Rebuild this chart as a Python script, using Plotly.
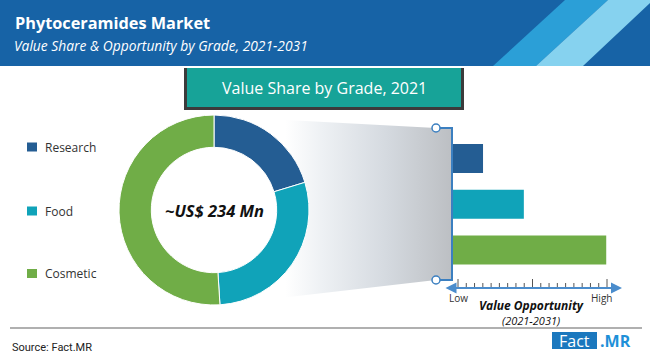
import plotly.graph_objects as go

# ---------------- data ----------------
categories = ["Research", "Food", "Cosmetic"]
share_2021 = [20.3, 28.7, 51.0]          # value share by grade, 2021 (%)
opportunity = [19.5, 46.0, 99.5]         # relative value opportunity 2021-2031 (Low=0 .. High=100)
market_label = "~US$ 234 Mn"
title = "Phytoceramides Market"
subtitle = "Value Share & Opportunity by Grade, 2021-2031"
box_title = "Value Share by Grade, 2021"

# ---------------- styles ----------------
colors = ["#245d93", "#10a3b9", "#70ad47"]
W, H = 650, 361
FONT = "Open Sans"


def px(x):
    return x / W


def py(y):
    return 1 - y / H


fig = go.Figure()

# gradient "projection" from donut to bars (decoration, pixel axis)
fig.add_trace(go.Scatter(
    x=[214, 436, 452, 452, 436, 220, 214],
    y=[116, 128, 128, 280, 280, 305, 116],
    xaxis="x3", yaxis="y3", mode="lines", line=dict(width=0),
    fill="toself",
    fillgradient=dict(type="horizontal",
                      colorscale=[[0, "#ffffff"], [0.3, "#ffffff"], [0.45, "#eef1f4"],
                                  [0.72, "#d5dae0"], [1, "#bcbfc3"]]),
    hoverinfo="skip", showlegend=False))

# donut
fig.add_trace(go.Pie(
    labels=categories, values=share_2021, hole=0.66, sort=False,
    direction="clockwise", rotation=0,
    marker=dict(colors=colors, line=dict(color="white", width=1)),
    textinfo="none", showlegend=False,
    domain=dict(x=[px(119), px(309)], y=[py(305), py(115)])))

# bars
fig.add_trace(go.Bar(
    y=categories, x=opportunity, orientation="h", width=0.63,
    marker=dict(color=colors, line=dict(width=0)),
    xaxis="x", yaxis="y", showlegend=False))

shapes = []
ann = []

# header
shapes.append(dict(type="rect", xref="x3", yref="y3", x0=0, x1=650, y0=0, y1=66,
                   fillcolor="#1763a6", line=dict(width=0), layer="below"))
shapes.append(dict(type="path", xref="x3", yref="y3",
                   path="M 565 0 L 608 0 L 536 66 L 493 66 Z",
                   fillcolor="#2b9fd7", line=dict(width=0), layer="below"))
shapes.append(dict(type="path", xref="x3", yref="y3",
                   path="M 608 0 L 651 0 L 651 2 L 583 66 L 536 66 Z",
                   fillcolor="#86d2ef", line=dict(width=0), layer="below"))

ann.append(dict(x=13, y=23, xref="x3", yref="y3", text="<b>" + title + "</b>",
                showarrow=False, xanchor="left", yanchor="middle",
                font=dict(family=FONT, size=16.3, color="white")))
ann.append(dict(x=12, y=45, xref="x3", yref="y3", text="<i>" + subtitle + "</i>",
                showarrow=False, xanchor="left", yanchor="middle",
                font=dict(family=FONT, size=13.8, color="white")))

# title box
shapes.append(dict(type="rect", xref="x3", yref="y3", x0=184, x1=464, y0=68, y1=110,
                   fillcolor="#3b3b3b", line=dict(width=0)))
shapes.append(dict(type="rect", xref="x3", yref="y3", x0=187, x1=461, y0=68, y1=107,
                   fillcolor="#17a398", line=dict(width=0)))
ann.append(dict(x=324, y=88, xref="x3", yref="y3", text=box_title, showarrow=False,
                font=dict(family=FONT, size=16, color="white")))

# donut centre text
ann.append(dict(x=214, y=210, xref="x3", yref="y3", text="<b><i>" + market_label + "</i></b>",
                showarrow=False, font=dict(family=FONT, size=16.5, color="#111111")))

# legend
leg_y = [147, 211, 273.5]
for i, c in enumerate(categories):
    shapes.append(dict(type="rect", xref="x3", yref="y3", x0=27, x1=37,
                       y0=leg_y[i] - 4.5, y1=leg_y[i] + 4.5,
                       fillcolor=colors[i], line=dict(width=0)))
    ann.append(dict(x=43, y=leg_y[i], xref="x3", yref="y3", text=c, showarrow=False,
                    xanchor="left", yanchor="middle",
                    font=dict(family=FONT, size=12, color="#333333")))

# bracket
shapes.append(dict(type="path", xref="x3", yref="y3",
                   path="M 436 128 L 452 128 L 452 280 L 436 280",
                   line=dict(color="#3b7fc0", width=2)))
for cy in (128, 280):
    shapes.append(dict(type="circle", xref="x3", yref="y3", x0=432, x1=440,
                       y0=cy - 4, y1=cy + 4, fillcolor="white",
                       line=dict(color="#3b7fc0", width=1.5)))

# value opportunity scale
ann.append(dict(x=622, y=288, ax=444, ay=288, xref="x3", yref="y3", axref="x3", ayref="y3",
                text="", showarrow=True, arrowhead=2, arrowside="end+start",
                arrowsize=1.1, arrowwidth=2, arrowcolor="#4a8ccc"))
n_ticks = 19
for k in range(n_ticks):
    tx = 458 + k * (607 - 458) / (n_ticks - 1)
    tall = k in (0, 9, 18)
    shapes.append(dict(type="line", xref="x3", yref="y3", x0=tx, x1=tx,
                       y0=279 if tall else 283, y1=288,
                       line=dict(color="#555555", width=1)))
ann.append(dict(x=458, y=298, xref="x3", yref="y3", text="Low", showarrow=False,
                font=dict(family=FONT, size=10, color="#333333")))
ann.append(dict(x=601, y=298, xref="x3", yref="y3", text="High", showarrow=False,
                font=dict(family=FONT, size=10, color="#333333")))
ann.append(dict(x=531, y=305, xref="x3", yref="y3", text="<b><i>Value Opportunity</i></b>",
                showarrow=False, font=dict(family=FONT, size=12, color="#111111")))
ann.append(dict(x=531, y=320, xref="x3", yref="y3", text="<i>(2021-2031)</i>",
                showarrow=False, font=dict(family=FONT, size=11, color="#111111")))

# footer
shapes.append(dict(type="line", xref="x3", yref="y3", x0=10, x1=642, y0=328, y1=328,
                   line=dict(color="#b0b0b0", width=2)))
ann.append(dict(x=10, y=347, xref="x3", yref="y3", text="Source: Fact.MR", showarrow=False,
                xanchor="left", yanchor="middle",
                font=dict(family="Roboto", size=11, color="#222222")))
shapes.append(dict(type="rect", xref="x3", yref="y3", x0=552, x1=597, y0=332, y1=349,
                   fillcolor="#1b78be", line=dict(width=0)))
ann.append(dict(x=574.5, y=340.5, xref="x3", yref="y3", text="Fact", showarrow=False,
                font=dict(family=FONT, size=16, color="white")))
ann.append(dict(x=598, y=340.5, xref="x3", yref="y3", text="<b>.MR</b>", showarrow=False,
                xanchor="left", font=dict(family=FONT, size=16, color="#1e90d8")))

fig.update_layout(
    width=W, height=H, margin=dict(l=0, r=0, t=0, b=0),
    paper_bgcolor="white", plot_bgcolor="rgba(0,0,0,0)",
    showlegend=False,
    xaxis=dict(domain=[px(453), px(607)], range=[0, 100], visible=False, anchor="y",
               fixedrange=True),
    yaxis=dict(domain=[py(272.9), py(135.6)], type="category", categoryorder="array",
               categoryarray=categories, range=[2.5, -0.5], visible=False, anchor="x",
               fixedrange=True),
    xaxis3=dict(domain=[0, 1], range=[0, W], visible=False, anchor="y3", fixedrange=True),
    yaxis3=dict(domain=[0, 1], range=[H, 0], visible=False, anchor="x3", fixedrange=True),
    shapes=shapes, annotations=ann,
)

fig.write_html("out.html", config={"displayModeBar": False},
               post_script="document.body.style.margin='0';document.body.style.overflow='hidden';")
